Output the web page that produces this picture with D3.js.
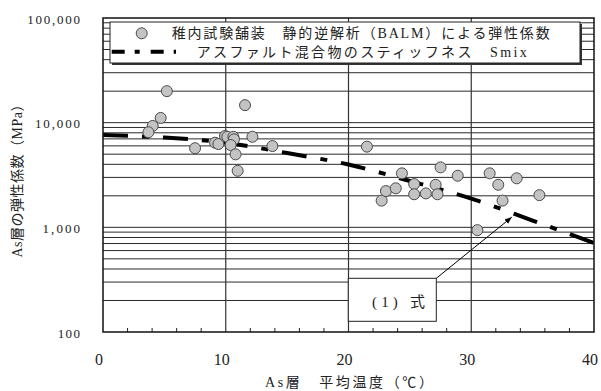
<!DOCTYPE html>
<html><head><meta charset="utf-8">
<script src="https://cdn.jsdelivr.net/npm/d3@7"></script>
<style>
html,body{margin:0;padding:0;background:#fff;}
svg{display:block;}
text{font-family:"Liberation Serif","Noto Sans CJK JP",serif;fill:#222;}
</style></head>
<body><svg id="c" width="601" height="391"></svg>
<script>
// ---- data ----
const tempBALM = [5.2, 4.7, 4.05, 3.7, 7.5, 9.13, 9.4, 9.94, 10.13, 10.62, 10.67, 10.4, 10.8, 10.97, 12.17, 13.8, 11.57, 21.5,
  22.7, 23.05, 23.85, 24.35, 25.35, 25.35, 26.3, 27.1, 27.25, 27.5, 28.9, 30.5, 31.5, 32.2, 32.55, 33.7, 35.55];
const eBALM = [20000, 11100, 9300, 8100, 5700, 6430, 6250, 7450, 7330, 7330, 6930, 6110, 4980, 3470, 7330, 5980, 14700, 5900,
  1800, 2220, 2360, 3280, 2590, 2070, 2110, 2550, 2070, 3740, 3110, 940, 3280, 2550, 1800, 2940, 2030];
const smixTemp = [0, 5, 10, 15, 20, 25, 30, 35, 40];
const smixValue = [7610, 7210, 6430, 5125, 3980, 2770, 1884, 1161, 708];
const xTicks = [0, 10, 20, 30, 40];
const xTickLabels = ["0", "10", "20", "30", "40"];
const yTicks = [100, 1000, 10000, 100000];
const yTickLabels = ["100", "1,000", "10,000", "100,000"];
const legendLabels = ["稚内試験舗装　静的逆解析（BALM）による弾性係数", "アスファルト混合物のスティッフネス　Smix"];
const xTitle = "As層　平均温度（℃）";
const yTitle = "As層の弾性係数（MPa）";
const noteLabel = "(1) 式";
const notePoint = [33.3, 1250];

// ---- layout ----
const svg = d3.select("#c");
const L = 103, R = 594, T = 18, B = 332;
const x = d3.scaleLinear().domain([0, 40]).range([L, R]);
const y = d3.scaleLog().domain([100, 100000]).range([B, T]);

const grid = svg.append("g");
// horizontal minor/major gridlines
const hLines = [];
for (let k = 2; k <= 4; k++) for (let m = 1; m <= 9; m++) { const v = m * Math.pow(10, k); if (v > 100 && v < 100000) hLines.push(v); }
grid.selectAll("line.h").data(hLines).join("line").attr("class", "h")
  .attr("x1", L).attr("x2", R).attr("y1", d => y(d)).attr("y2", d => y(d))
  .attr("stroke", "#2a2a2a").attr("stroke-width", 1);
grid.selectAll("line.v").data([10, 20, 30]).join("line").attr("class", "v")
  .attr("x1", d => x(d)).attr("x2", d => x(d)).attr("y1", T).attr("y2", B)
  .attr("stroke", "#333").attr("stroke-width", 1.2);
// minor x ticks
const minor = d3.range(2, 40, 2).filter(d => d % 10 !== 0);
grid.selectAll("line.mt").data(minor).join("line").attr("class", "mt")
  .attr("x1", d => x(d)).attr("x2", d => x(d)).attr("y1", B).attr("y2", B - 4)
  .attr("stroke", "#222").attr("stroke-width", 1);

// Smix line
const line = d3.line().x((d, i) => x(smixTemp[i])).y(d => y(d)).curve(d3.curveMonotoneX);
svg.append("path").datum(smixValue).attr("d", line)
  .attr("fill", "none").attr("stroke", "#000").attr("stroke-width", 4)
  .attr("stroke-dasharray", "25,14,7,14");

// points
svg.append("g").selectAll("circle").data(tempBALM).join("circle")
  .attr("cx", d => x(d)).attr("cy", (d, i) => y(eBALM[i])).attr("r", 5.5)
  .attr("fill", "#c3c3c3").attr("stroke", "#4a4a4a").attr("stroke-width", 1);

// legend
const lg = svg.append("g");
lg.append("rect").attr("x", 112).attr("y", 24).attr("width", 470).attr("height", 41).attr("fill", "#333");
lg.append("rect").attr("x", 110).attr("y", 22).attr("width", 470).attr("height", 41).attr("fill", "#fff").attr("stroke", "#222").attr("stroke-width", 1);
lg.append("circle").attr("cx", 141.7).attr("cy", 33.3).attr("r", 5.5).attr("fill", "#c3c3c3").attr("stroke", "#4a4a4a");
lg.append("line").attr("x1", 111.7).attr("x2", 176).attr("y1", 51.7).attr("y2", 51.7)
  .attr("stroke", "#000").attr("stroke-width", 4).attr("stroke-dasharray", "13,10,5,11");
lg.append("text").attr("x", 171.7).attr("y", 33.5).attr("dominant-baseline", "central")
  .attr("font-size", 14).attr("textLength", 378).attr("lengthAdjust", "spacing").text(legendLabels[0]);
lg.append("text").attr("x", 196.7).attr("y", 52.5).attr("dominant-baseline", "central")
  .attr("font-size", 14).attr("textLength", 330).attr("lengthAdjust", "spacing").text(legendLabels[1]);

// annotation
const nb = svg.append("g");
nb.append("rect").attr("x", 348.3).attr("y", 278.3).attr("width", 88).attr("height", 43).attr("fill", "#fff").attr("stroke", "#222").attr("stroke-width", 1);
nb.append("text").attr("x", 398.5).attr("y", 302).attr("text-anchor", "middle").attr("dominant-baseline", "central")
  .attr("font-size", 15).attr("textLength", 53).attr("lengthAdjust", "spacing").text(noteLabel);
svg.append("defs").append("marker").attr("id", "ah").attr("viewBox", "0 0 10 10").attr("refX", 10).attr("refY", 5)
  .attr("markerWidth", 7).attr("markerHeight", 7).attr("orient", "auto")
  .append("path").attr("d", "M0,1 L10,5 L0,9 Z").attr("fill", "#000");
nb.append("line").attr("x1", 436.3).attr("y1", 278.3).attr("x2", x(notePoint[0])).attr("y2", y(notePoint[1]))
  .attr("stroke", "#000").attr("stroke-width", 1).attr("marker-end", "url(#ah)");

// frame
svg.append("rect").attr("x", L).attr("y", T).attr("width", R - L).attr("height", B - T)
  .attr("fill", "none").attr("stroke", "#111").attr("stroke-width", 1.5);

// y tick labels
svg.append("g").selectAll("text").data(yTicks).join("text")
  .attr("x", 80).attr("y", d => y(d) + 1).attr("text-anchor", "end").attr("dominant-baseline", "central")
  .attr("font-size", 13).attr("textLength", (d, i) => yTickLabels[i].length * 7.6 - 0.5).attr("lengthAdjust", "spacing")
  .text((d, i) => yTickLabels[i]);
// x tick labels
svg.append("g").selectAll("text").data(xTicks).join("text")
  .attr("x", d => x(d) - 4).attr("y", 359).attr("text-anchor", "middle").attr("dominant-baseline", "central")
  .attr("font-size", 16).text((d, i) => xTickLabels[i]);
// titles
svg.append("text").attr("x", 349).attr("y", 382).attr("text-anchor", "middle").attr("dominant-baseline", "central")
  .attr("font-size", 14).attr("textLength", 168).attr("lengthAdjust", "spacing").text(xTitle);
svg.append("text").attr("transform", "translate(17,177.5) rotate(-90)").attr("text-anchor", "middle").attr("dominant-baseline", "central")
  .attr("font-size", 14).attr("textLength", 160).attr("lengthAdjust", "spacing").text(yTitle);
</script></body></html>
